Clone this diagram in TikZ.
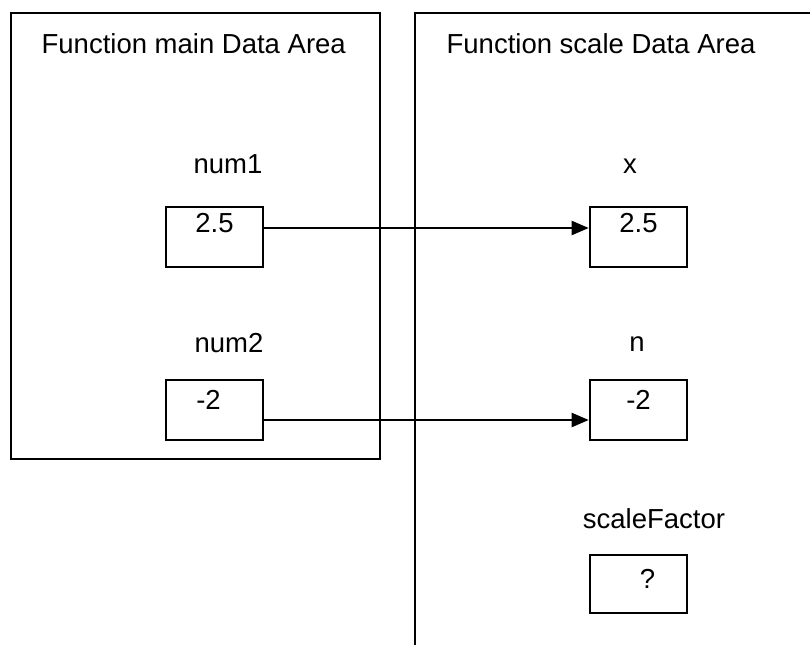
\documentclass[tikz,border=0pt]{standalone}
\usepackage{fontspec}
\setmainfont{Liberation Sans}
\usetikzlibrary{arrows.meta}

\begin{document}
\begin{tikzpicture}[x=1pt, y=-1pt, line width=2.6pt,
        every node/.style={font=\fontsize{27.5}{33}\selectfont},
        cell/.style={draw, inner sep=0pt, minimum width=97pt, text height=25pt, text depth=35pt},
        pass/.style={-{Triangle[length=17pt, width=14pt]}, line width=2.3pt}]
        \useasboundingbox (0,0) rectangle (810,645);

        % Data area frames
        \draw (11,13) rectangle (380,459);
        \draw (415,645) -- (415,13) -- (810,13);
        \node[anchor=base west] (maintitle) at (37,53) {Function main Data Area};
        \node[anchor=base west] (scaletitle) at (442,53) {Function scale Data Area};

        % Variables of main
        \node[anchor=base] (num1lbl) at (228,173) {num1};
        \node[cell] (num1) at (214.5,237) {2.5};
        \node[anchor=base] (num2lbl) at (229,352) {num2};
        \node[cell, text height=29pt, text depth=31pt] (num2) at (214.5,410) {\hspace*{-12pt}-2};

        % Variables of scale
        \node[anchor=base] (xlbl) at (630,173) {x};
        \node[cell] (x) at (638.5,237) {2.5};
        \node[anchor=base] (nlbl) at (637,351) {n};
        \node[cell, text height=29pt, text depth=31pt] (n) at (638.5,410) {-2};
        \node[anchor=base] (sflbl) at (654,528) {scaleFactor};
        \node[cell, text height=33pt, text depth=25pt] (sf) at (638.5,584) {\hspace*{18pt}?};

        % Arguments passed by value
        \draw[pass] ([yshift=9pt]num1.east) -- ([yshift=9pt]x.west);
        \draw[pass] ([yshift=-10pt]num2.east) -- ([yshift=-10pt]n.west);
    \end{tikzpicture}
\end{document}
